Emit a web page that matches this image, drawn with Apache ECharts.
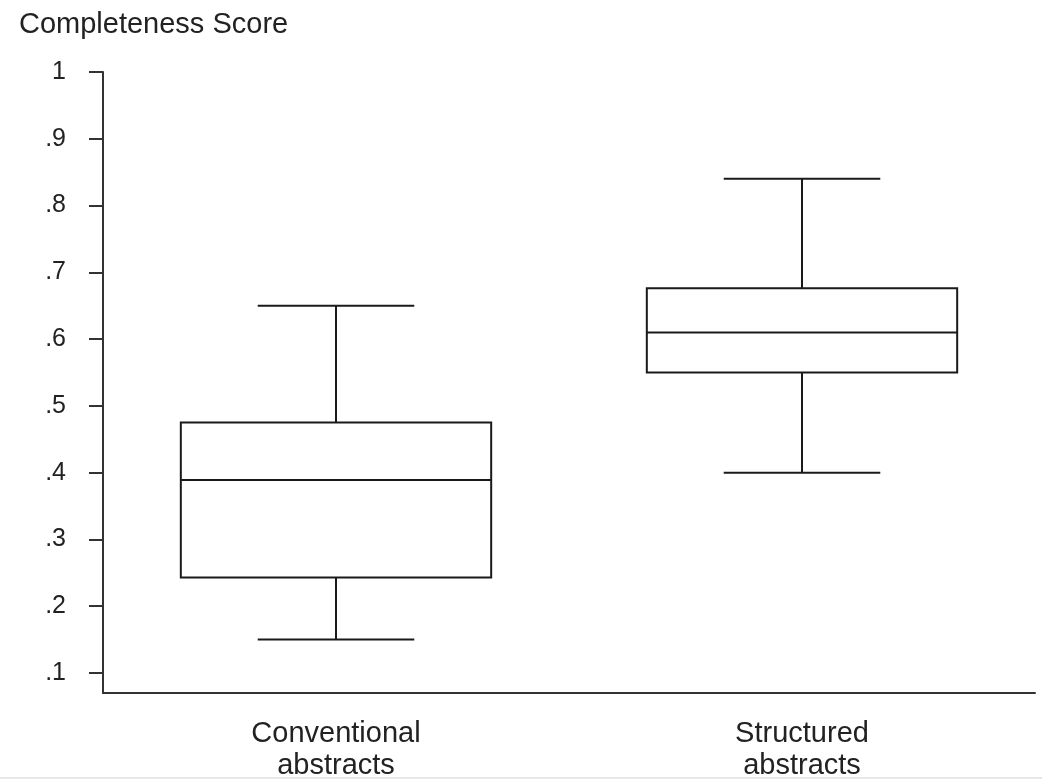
<!DOCTYPE html>
<html>
<head>
<meta charset="utf-8">
<script src="https://cdn.jsdelivr.net/npm/echarts@6/dist/echarts.min.js"></script>
<style>
  html, body { margin: 0; padding: 0; background: #fff; }
  #chart { width: 1042px; height: 782px; }
</style>
</head>
<body>
<div id="chart"></div>
<script>
// Completeness scores of conventional vs structured abstracts
const categories = ['Conventional\nabstracts', 'Structured\nabstracts'];
const whiskerLow = [0.15, 0.40];
const quartile1 = [0.243, 0.55];
const median = [0.389, 0.61];
const quartile3 = [0.475, 0.676];
const whiskerHigh = [0.65, 0.84];
const tickValues = [0.1, 0.2, 0.3, 0.4, 0.5, 0.6, 0.7, 0.8, 0.9, 1];

const boxData = categories.map((c, i) => [i, whiskerLow[i], quartile1[i], median[i], quartile3[i], whiskerHigh[i]]);

const ink = '#1a1a1a';
const fontFamily = '"Liberation Sans", Arial, Helvetica, sans-serif';

function renderBox(params, api) {
  const idx = api.value(0);
  const band = api.size([1, 0])[0];
  const boxHalf = band * 0.333;
  const capHalf = band * 0.168;
  const pLow = api.coord([idx, api.value(1)]);
  const pQ1 = api.coord([idx, api.value(2)]);
  const pMed = api.coord([idx, api.value(3)]);
  const pQ3 = api.coord([idx, api.value(4)]);
  const pHigh = api.coord([idx, api.value(5)]);
  const x = pQ1[0];
  const style = { stroke: ink, lineWidth: 2, fill: null };
  return {
    type: 'group',
    children: [
      { type: 'rect', shape: { x: x - boxHalf, y: pQ3[1], width: boxHalf * 2, height: pQ1[1] - pQ3[1] }, style: { stroke: ink, lineWidth: 2, fill: '#fff' } },
      { type: 'line', shape: { x1: x - boxHalf, y1: pMed[1], x2: x + boxHalf, y2: pMed[1] }, style: style },
      { type: 'line', shape: { x1: x, y1: pQ3[1], x2: x, y2: pHigh[1] }, style: style },
      { type: 'line', shape: { x1: x, y1: pQ1[1], x2: x, y2: pLow[1] }, style: style },
      { type: 'line', shape: { x1: x - capHalf, y1: pHigh[1], x2: x + capHalf, y2: pHigh[1] }, style: style },
      { type: 'line', shape: { x1: x - capHalf, y1: pLow[1], x2: x + capHalf, y2: pLow[1] }, style: style }
    ]
  };
}

const chart = echarts.init(document.getElementById('chart'), null, { renderer: 'canvas' });
chart.setOption({
  backgroundColor: '#fff',
  animation: false,
  textStyle: { fontFamily: fontFamily },
  title: {
    text: 'Completeness Score',
    left: 14,
    top: 5,
    textStyle: { fontFamily: fontFamily, fontSize: 29, fontWeight: 'normal', color: '#222' }
  },
  grid: { left: 103, right: 7, top: 72, bottom: 88, containLabel: false },
  xAxis: {
    type: 'category',
    data: categories,
    boundaryGap: true,
    axisLine: { show: true, lineStyle: { color: '#333', width: 2 } },
    axisTick: { show: false },
    axisLabel: {
      margin: 25,
      fontFamily: fontFamily,
      fontSize: 29,
      lineHeight: 32,
      color: '#222',
      align: 'center'
    },
    splitLine: { show: false }
  },
  yAxis: {
    type: 'value',
    min: 0.07,
    max: 1,
    axisLine: { show: true, lineStyle: { color: '#333', width: 2 } },
    axisTick: {
      show: true,
      length: 14,
      customValues: tickValues,
      lineStyle: { color: '#333', width: 2 }
    },
    axisLabel: {
      margin: 37,
      customValues: tickValues,
      fontFamily: fontFamily,
      fontSize: 25,
      color: '#222',
      formatter: function (v) {
        const r = Math.round(v * 10) / 10;
        return r === 1 ? '1' : String(r).replace(/^0/, '');
      }
    },
    splitLine: { show: false }
  },
  graphic: [
    { type: 'rect', shape: { x: 0, y: 777, width: 1042, height: 2 }, style: { fill: '#e8e8e8' }, silent: true }
  ],
  series: [{
    type: 'custom',
    renderItem: renderBox,
    encode: { x: 0, y: [1, 2, 3, 4, 5] },
    data: boxData
  }]
});
</script>
</body>
</html>
